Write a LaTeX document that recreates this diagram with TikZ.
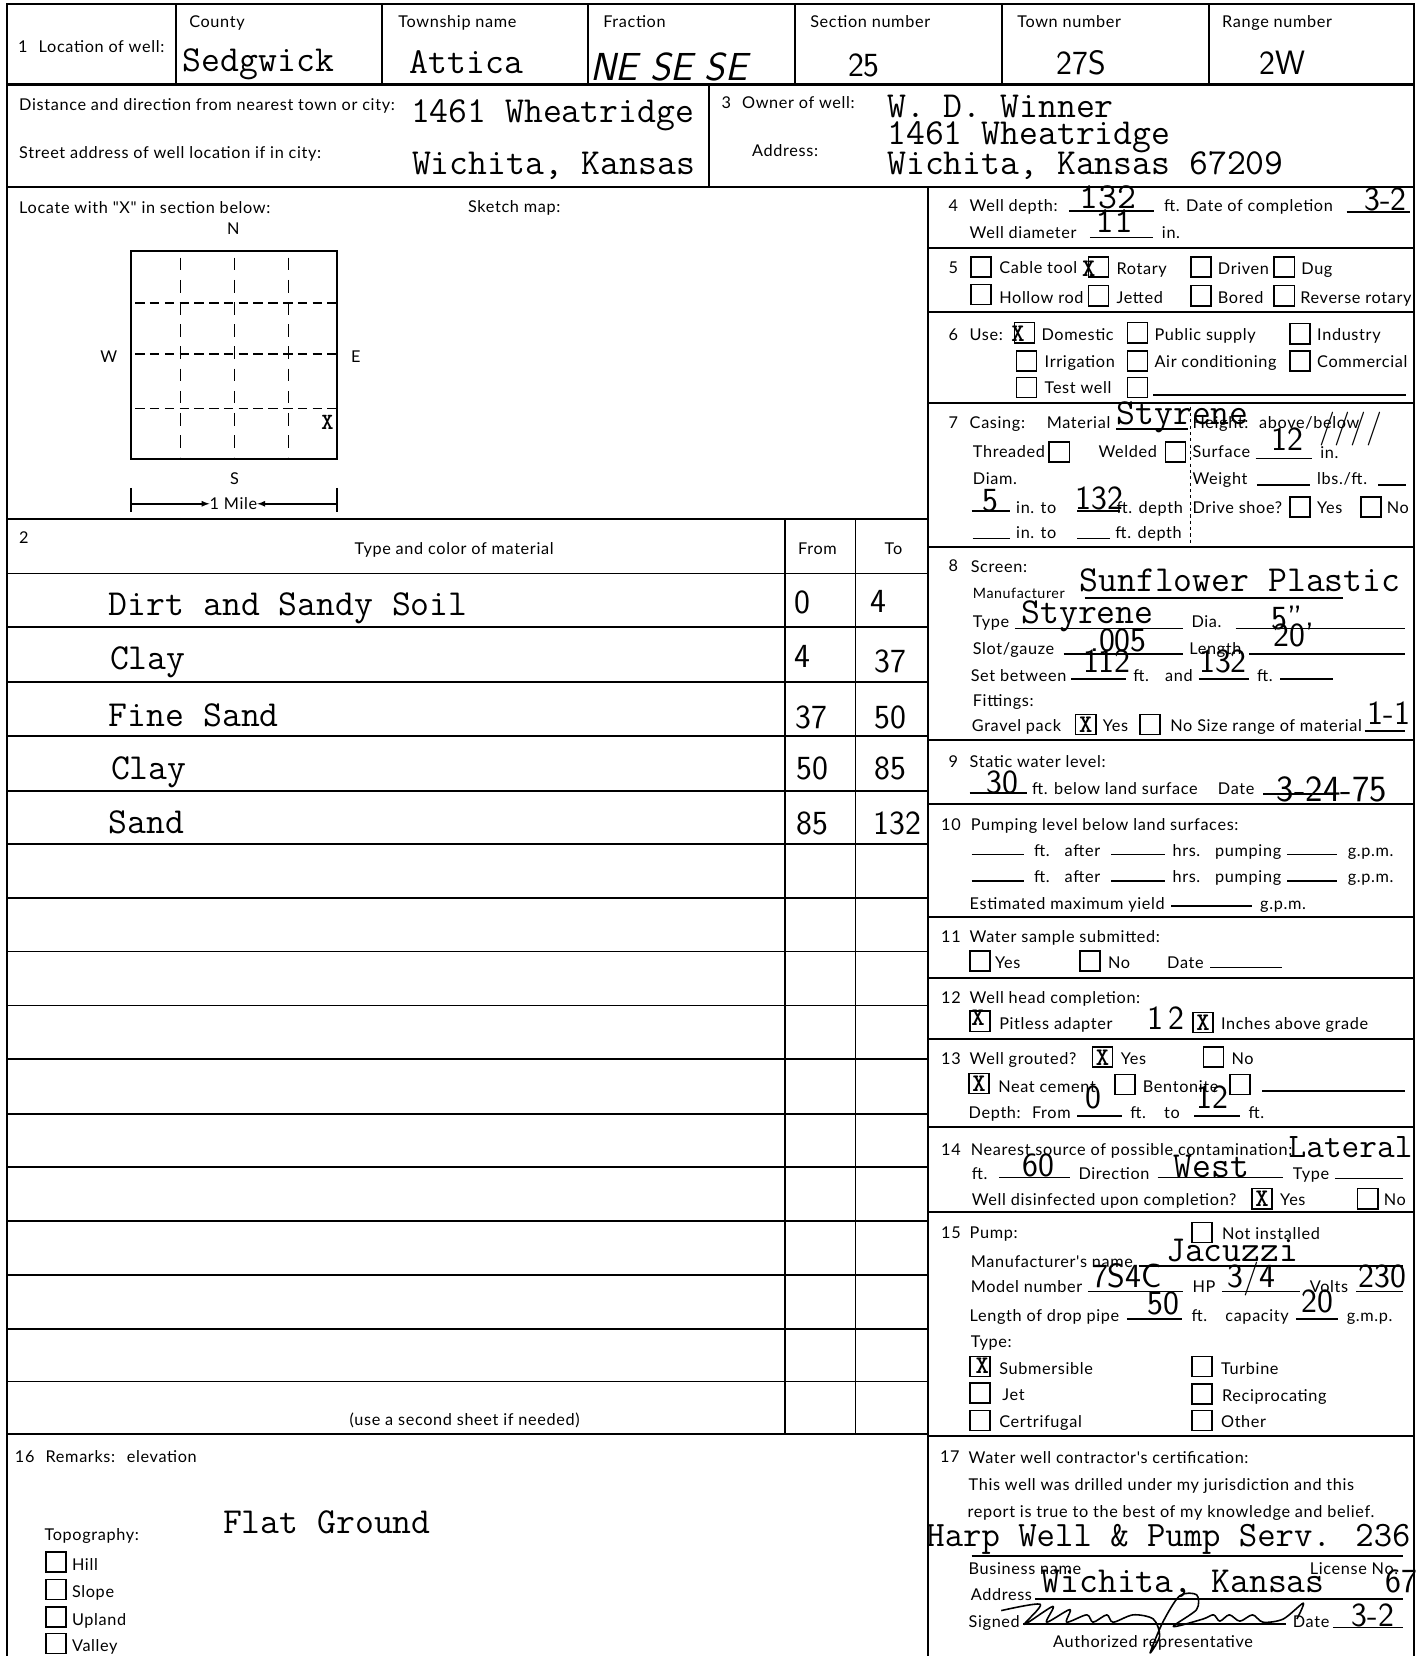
\documentclass[tikz,border=0pt]{standalone}
\usepackage{fontspec}
\newfontfamily\formfont[LetterSpace = 4]{Lato}
\tikzset{
    lab/.style = {anchor = base west, inner sep = 0pt, font = \formfont\fontsize{15.4}{15.4}\selectfont},
    labc/.style = {lab, anchor = base},
    typed/.style = {anchor = base west, inner sep = 0pt, font = \ttfamily\fontsize{34.7}{34.7}\selectfont\addfontfeature{FakeBold = 1.2}},
    hand/.style = {anchor = base, inner sep = 0pt, font = \sffamily\fontsize{32}{32}\selectfont},
    markx/.style = {inner sep = 0pt, font = \ttfamily\bfseries\fontsize{24}{24}\selectfont},
    chkbox/.style = {draw, line width = 1.5pt, minimum size = 19pt, inner sep = 0pt},
    frame/.style = {line width = 2pt},
    rowline/.style = {line width = 1.7pt},
    blank/.style = {line width = 1.6pt}
}
\begin{document}
\begin{tikzpicture}[x = 1pt, y = -1pt]
    \useasboundingbox (0, 0) rectangle (1347, 1568);
    % form frame
    \draw[frame] (7, 1568) -- (7, 4) -- (1339, 4) -- (1339, 1568);
    \draw[frame] (7, 80) -- (1339, 80);
    \draw[frame] (7, 177) -- (1339, 177);
    \draw[frame] (879, 177) -- (879, 1568);
    \draw[frame] (671, 80) -- (671, 177);
    \foreach \x in {167, 362, 557, 753, 949, 1145}
        \draw[frame] (\x, 4) -- (\x, 80);
    \foreach \y in {235, 295, 382, 518, 701, 761, 868, 926, 984, 1067, 1148, 1360}
        \draw[frame] (879, \y) -- (1339, \y);
    \draw[frame] (7, 491) -- (879, 491);
    \foreach \y in {543, 594, 646, 697, 749, 799, 850, 901, 952, 1003, 1055, 1105, 1156, 1207, 1258, 1308, 1358}
        \draw[rowline] (7, \y) -- (879, \y);
    \draw[rowline] (743, 491) -- (743, 1358);
    \draw[rowline] (810, 491) -- (810, 1358);
    \draw[thick, dashed] (1127, 385) -- (1127, 516);

    % top row
    \node[lab] (loc) at (17, 50) {1\hspace{6pt} Location of well:};
    \node[lab] (county) at (179, 26) {County};
    \node[lab] (township) at (377, 26) {Township name};
    \node[lab] (fraction) at (571, 26) {Fraction};
    \node[lab] (section) at (767, 26) {Section number};
    \node[lab] (town) at (963, 26) {Town number};
    \node[lab] (range) at (1157, 26) {Range number};
    \node[typed] (sedgwick) at (173, 68) {Sedgwick};
    \node[typed] (attica) at (388, 70) {Attica};
    \node[hand, font = \sffamily\slshape\fontsize{37}{37}\selectfont] (nese) at (633, 76) {NE SE SE};
    \node[hand] (sec25) at (818, 72) {25};
    \node[hand] (town27) at (1024, 71) {27S};
    \node[hand] (range2) at (1214, 71) {2W};

    % second row
    \node[lab] (dist) at (18, 105) {Distance and direction from nearest town or city:};
    \node[lab] (street) at (18, 150) {Street address of well location if in city:};
    \node[typed] (wheat) at (389, 116) {1461 Wheatridge};
    \node[typed] (wich) at (390, 165) {Wichita, Kansas};
    \node[lab] (owner) at (683, 103) {3\hspace{6pt} Owner of well:};
    \node[lab] (addr) at (712, 148) {Address:};
    \node[typed] (winner) at (840, 111) {W. D. Winner};
    \node[typed] (wheatb) at (840, 137) {1461 Wheatridge};
    \node[typed] (wichb) at (840, 165) {Wichita, Kansas 67209};

    % section map
    \node[lab] (locate) at (18, 202) {Locate with "X" in section below:};
    \node[lab] (sketch) at (443, 201) {Sketch map:};
    \node[labc] (north) at (221, 222) {N};
    \node[labc] (west) at (103, 343) {W};
    \node[labc] (east) at (337, 343) {E};
    \node[labc] (south) at (222, 459) {S};
    \draw[line width = 1.8pt] (124, 238) rectangle (319, 435);
    \foreach \x in {171, 222, 273}
        \draw[line width = 1.4pt, dash pattern = on 12pt off 9pt] (\x, 244) -- (\x, 433);
    \foreach \y in {287, 335, 387}
        \draw[line width = 1.4pt, dash pattern = on 9pt off 5pt] (128, \y) -- (318, \y);
    \node[markx, font = \ttfamily\bfseries\fontsize{22}{22}\selectfont] (xmap) at (310, 400) {X};
    \node[labc] (mile) at (221, 482) {1 Mile};
    \draw[line width = 1.5pt] (124, 462) -- (124, 485);
    \draw[line width = 1.5pt] (319, 462) -- (319, 485);
    \draw[->, >=latex, line width = 1.5pt] (124, 477) -- (mile.west |- 0, 477);
    \draw[->, >=latex, line width = 1.5pt] (319, 477) -- (mile.east |- 0, 477);

    % material table
    \node[lab] (two) at (18, 515) {2};
    \node[labc] (material) at (430, 525) {Type and color of material};
    \node[labc] (from) at (774, 525) {From};
    \node[labc] (to) at (846, 525) {To};
    \node[typed] (dirt) at (103, 583) {Dirt and Sandy Soil};
    \node[typed] (clay) at (104, 634) {Clay};
    \node[typed] (fine) at (103, 688) {Fine Sand};
    \node[typed] (clayb) at (105, 738) {Clay};
    \node[typed] (sand) at (103, 789) {Sand};
    \foreach \n/\x/\y/\t in {fa/760/581/0, ta/832/580/4, fb/760/632/4, tb/843/637/37, fc/768/690/37, tc/843/690/50, fd/769/738/50, td/843/738/85, fe/769/790/85, te/850/790/132}
        \node[hand] (\n) at (\x, \y) {\t};
    \node[labc] (second) at (440, 1350) {(use a second sheet if needed)};

    % remarks
    \node[lab] (remarks) at (14, 1385) {16\hspace{6pt} Remarks:\hspace{5pt} elevation};
    \node[lab] (topo) at (42, 1459) {Topography:};
    \node[typed] (flat) at (211, 1452) {Flat Ground};
    \foreach \n/\y/\t in {hill/1479/Hill, slope/1505/Slope, upland/1531/Upland, valley/1556/Valley} {
        \node[chkbox] (b\n) at (53, \y) {};
        \node[lab] (\n) at (68, \y + 8) {\t};
    }

    % blank rules of the right column
    \foreach \a/\b/\y in {1012/1093/200, 1275/1335/201, 1032/1092/225, 1092/1331/374, 1057/1125/406,
        1189/1242/434, 1190/1240/459, 1305/1331/459, 920/956/484, 1020/1060/484, 921/956/510, 1020/1051/510,
        1027/1272/566, 961/1120/595, 1170/1330/595, 1007/1120/619, 1183/1330/619, 1014/1066/643, 1135/1183/643, 1212/1262/643, 1292/1330/692,
        918/972/751, 1196/1262/752, 920/970/809, 1052/1103/809, 1219/1266/809, 920/970/834, 1052/1103/834, 1219/1266/834, 1109/1185/858,
        1146/1214/916, 1195/1330/1033, 1020/1062/1057, 1131/1174/1057, 946/1013/1115, 1096/1215/1115, 1264/1328/1116,
        1078/1328/1199, 1030/1120/1223, 1157/1231/1223, 1284/1328/1223, 1067/1119/1249, 1227/1267/1249,
        920/1328/1473, 980/1328/1514, 969/1218/1538, 1262/1328/1541}
        \draw[blank] (\a, \y) -- (\b, \y);

    % check boxes
    \foreach \n/\x/\y in {ca/929/253, cb/1040/253, cc/1137/253, cd/1216/253, ce/929/279, cf/1040/280, cg/1137/280, ch/1216/280,
        ua/970/315, ub/1077/315, uc/1231/316, ud/972/342, ue/1077/342, uf/1231/342, ug/972/367, uh/1077/367,
        ka/1003/428, kb/1113/428, kc/1231/480, kd/1298/480, sa/1028/686, sb/1089/686,
        wa/928/910, wb/1032/910, ha/928/967, hb/1139/968, ga/1044/1001, gb/1149/1001, gc/927/1026, gd/1065/1027, ge/1174/1027,
        da/1195/1135, db/1295/1135, pa/1138/1167, pb/928/1294, pc/1138/1294, pd/928/1319, pe/1138/1320, pf/928/1345, pg/1138/1345}
        \node[chkbox] (\n) at (\x, \y) {};
    \foreach \n/\x/\y in {xa/1031/254, xb/964/316, xc/1028/686, xd/926/964, xe/1139/968, xf/1044/1002, xg/927/1026, xh/1195/1135, xi/930/1293}
        \node[markx] (\n) at (\x, \y) {X};

    % 4 and 5
    \node[lab] (nfour) at (898, 200) {4};
    \node[lab] (depth) at (918, 200) {Well depth:};
    \node[typed, anchor = base] (dval) at (1049, 197) {132};
    \node[lab] (compl) at (1102, 200) {ft. Date of completion};
    \node[hand] (cdate) at (1312, 199) {3-2};
    \node[lab] (diam) at (918, 226) {Well diameter};
    \node[typed, anchor = base] (dia) at (1055, 220) {11};
    \node[lab] (diamin) at (1100, 226) {in.};
    \node[lab] (nfive) at (898, 259) {5};
    \foreach \n/\x/\y/\t in {cable/946/259/Cable tool, rotary/1057/260/Rotary, driven/1153/260/Driven, dug/1232/260/Dug, hollow/946/287/Hollow rod, jetted/1057/287/Jetted, bored/1153/287/Bored, reverse/1231/287/Reverse rotary}
        \node[lab] (\n) at (\x, \y) {\t};

    % 6
    \node[lab] (nsix) at (898, 322) {6};
    \foreach \n/\x/\y/\t in {use/918/322/Use:, domestic/986/322/Domestic, public/1093/322/Public supply, industry/1247/322/Industry, irrig/989/348/Irrigation, air/1093/348/Air conditioning, commerc/1247/348/Commercial, test/989/373/Test well}
        \node[lab] (\n) at (\x, \y) {\t};

    % 7
    \foreach \n/\x/\y/\t in {nseven/898/406/7, casing/918/406/Casing:, mater/991/406/Material, height/1129/406/Height:, above/1192/406/{above/below}, threaded/921/433/Threaded, welded/1040/433/Welded, surface/1129/433/Surface, surfin/1250/434/in., digm/921/459/Diam., weight/1129/459/Weight, lbs/1247/459/{lbs./ft.}, into/962/486/in. to, ftdepth/1057/486/ft. depth, shoe/1129/486/Drive shoe?, shyes/1247/486/Yes, shno/1313/486/No, intob/962/510/in. to, ftdepthb/1056/510/ft. depth}
        \node[lab] (\n) at (\x, \y) {\t};
    \node[typed] (styr) at (1057, 402) {Styrene};
    \node[hand, font = \sffamily\fontsize{32}{32}\selectfont\addfontfeature{FakeBold = 1}] (slashes) at (1279, 414) {////};
    \node[hand] (sur) at (1219, 427) {12};
    \node[hand] (cdia) at (938, 484) {5};
    \node[hand] (cto) at (1041, 482) {132};

    % 8
    \foreach \n/\x/\y/\t in {neight/898/541/8, screen/919/542/Screen:, typ/921/594/Type, dial/1128/594/Dia., slot/921/620/{Slot/gauze}, lengt/1126/620/Length, setb/919/645/Set between, setft/1073/645/ft., setand/1103/645/and, setftb/1190/645/ft., fittings/921/669/Fittings:, gravel/920/693/Gravel pack, gyes/1044/693/Yes, gno/1108/693/No Size range of material}
        \node[lab] (\n) at (\x, \y) {\t};
    \node[lab, font = \formfont\fontsize{13.5}{13.5}\selectfont] (manuf) at (921, 567) {Manufacturer};
    \node[typed] (sunf) at (1022, 560) {Sunflower Plastic};
    \node[typed] (styrb) at (967, 590) {Styrene};
    \node[hand] (sdia) at (1219, 596) {5"};
    \node[hand] (slotv) at (1059, 617) {.005};
    \node[hand] (slen) at (1225, 612) {20'};
    \node[hand] (set) at (1048, 637) {112};
    \node[hand] (setb2) at (1158, 637) {132};
    \node[hand] (sizev) at (1315, 686) {1-1};

    % 9 and 10
    \foreach \n/\x/\y/\t in {nnine/898/727/9, stat/918/727/Static water level:, below/977/752/ft. below land surface, wdate/1153/752/Date, nten/891/786/10, pumpl/919/786/Pumping level below land surfaces:, fta/979/811/ft.\hspace{8pt} after, hrsa/1110/811/hrs.\hspace{8pt} pumping, gpa/1276/811/g.p.m., ftb/979/836/ft.\hspace{8pt} after, hrsb/1110/836/hrs.\hspace{8pt} pumping, gpb/1276/836/g.p.m., estim/918/861/Estimated maximum yield, gpc/1193/861/g.p.m.}
        \node[lab] (\n) at (\x, \y) {\t};
    \node[hand] (level) at (949, 751) {30};
    \node[hand, font = \sffamily\fontsize{35}{35}\selectfont\addfontfeature{LetterSpace = 6}] (levdate) at (1261, 759) {3-24-75};

    % 11 and 12
    \foreach \n/\x/\y/\t in {neleven/891/892/11, water/918/892/Water sample submitted:, wyes/942/917/Yes, wno/1049/917/No, wdat/1105/917/Date, ntwelve/891/950/12, whead/918/950/Well head completion:, pitless/946/975/Pitless adapter, inches/1156/975/Inches above grade}
        \node[lab] (\n) at (\x, \y) {\t};
    \node[hand] (abovev) at (1104, 975) {1\hspace{4pt}2};

    % 13
    \foreach \n/\x/\y/\t in {nthirteen/891/1008/13, grouted/918/1008/Well grouted?, gyesb/1061/1008/Yes, gnob/1166/1008/No, neat/945/1034/Neat cement, bent/1082/1034/Bentonite, dep/917/1059/Depth:, frm/977/1059/From, gft/1070/1059/ft., gto/1102/1059/to, gftb/1182/1059/ft.}
        \node[lab] (\n) at (\x, \y) {\t};
    \node[hand] (gfrom) at (1035, 1050) {0};
    \node[hand] (gtov) at (1148, 1050) {12};

    % 14
    \foreach \n/\x/\y/\t in {nfourteen/891/1094/14, near/919/1094/Nearest source of possible contamination:, nft/920/1117/ft., direc/1021/1117/Direction, ntype/1224/1117/Type, disin/920/1141/Well disinfected upon completion?, dyes/1212/1141/Yes, dno/1310/1141/No}
        \node[lab] (\n) at (\x, \y) {\t};
    \node[typed, font = \ttfamily\fontsize{32.5}{32.5}\selectfont\addfontfeature{FakeBold = 1.2}] (later) at (1220, 1096) {Lateral};
    \node[hand] (sixty) at (983, 1114) {60};
    \node[typed] (westv) at (1111, 1115) {West};

    % 15
    \foreach \n/\x/\y/\t in {nfifteen/891/1173/15, pump/918/1173/Pump:, notin/1157/1174/Not installed, mname/919/1200/Manufacturer's name, model/919/1224/Model number, hp/1129/1224/HP, volts/1240/1224/Volts, drop/918/1251/Length of drop pipe, dft/1128/1251/ft., capac/1160/1251/capacity, gmp/1275/1251/g.m.p., ptype/919/1276/Type:, subm/946/1301/Submersible, turb/1156/1301/Turbine, jet/949/1326/Jet, recip/1157/1327/Reciprocating, cert/946/1352/Certrifugal, other/1156/1352/Other}
        \node[lab] (\n) at (\x, \y) {\t};
    \node[typed] (jac) at (1104, 1194) {Jacuzzi};
    \node[hand] (mod) at (1067, 1219) {7S4C};
    \node[hand] (hpv) at (1185, 1219) {3/4};
    \node[hand] (voltv) at (1309, 1219) {230};
    \node[hand] (dropv) at (1102, 1245) {50};
    \node[hand] (capv) at (1247, 1243) {20};

    % 17
    \foreach \n/\x/\y/\t in {nseventeen/890/1385/17, contr/917/1386/Water well contractor's certification:, drilled/917/1411/This well was drilled under my jurisdiction and this, report/916/1437/report is true to the best of my knowledge and belief., busin/917/1491/Business name, licen/1240/1491/License No., addrb/919/1515/Address, signed/917/1541/Signed, sdate/1224/1541/Date, auth/997/1560/Authorized representative}
        \node[lab] (\n) at (\x, \y) {\t};
    \node[typed, font = \ttfamily\fontsize{33.8}{33.8}\selectfont\addfontfeature{FakeBold = 1.2}] (harp) at (877, 1464) {Harp Well \& Pump Serv. 236};
    \node[typed] (wichc) at (986, 1508) {Wichita, Kansas};
    \node[hand] (lic) at (1327, 1508) {67};
    \node[hand] (signd) at (1300, 1540) {3-2};
    \draw[line width = 1.5pt, line join = round] plot[smooth] coordinates {(948,1525) (985,1519) (970,1538) (997,1521) (991,1536) (1013,1524) (1010,1536) (1029,1529) (1035,1536) (1048,1529) (1054,1536) (1073,1529) (1092,1533) (1098,1549) (1089,1565) (1101,1536) (1117,1511) (1133,1510) (1133,1524) (1111,1540) (1139,1533) (1149,1529) (1155,1535) (1164,1529) (1174,1535) (1186,1529) (1196,1536) (1215,1533) (1234,1518) (1228,1533)};
\end{tikzpicture}
\end{document}
